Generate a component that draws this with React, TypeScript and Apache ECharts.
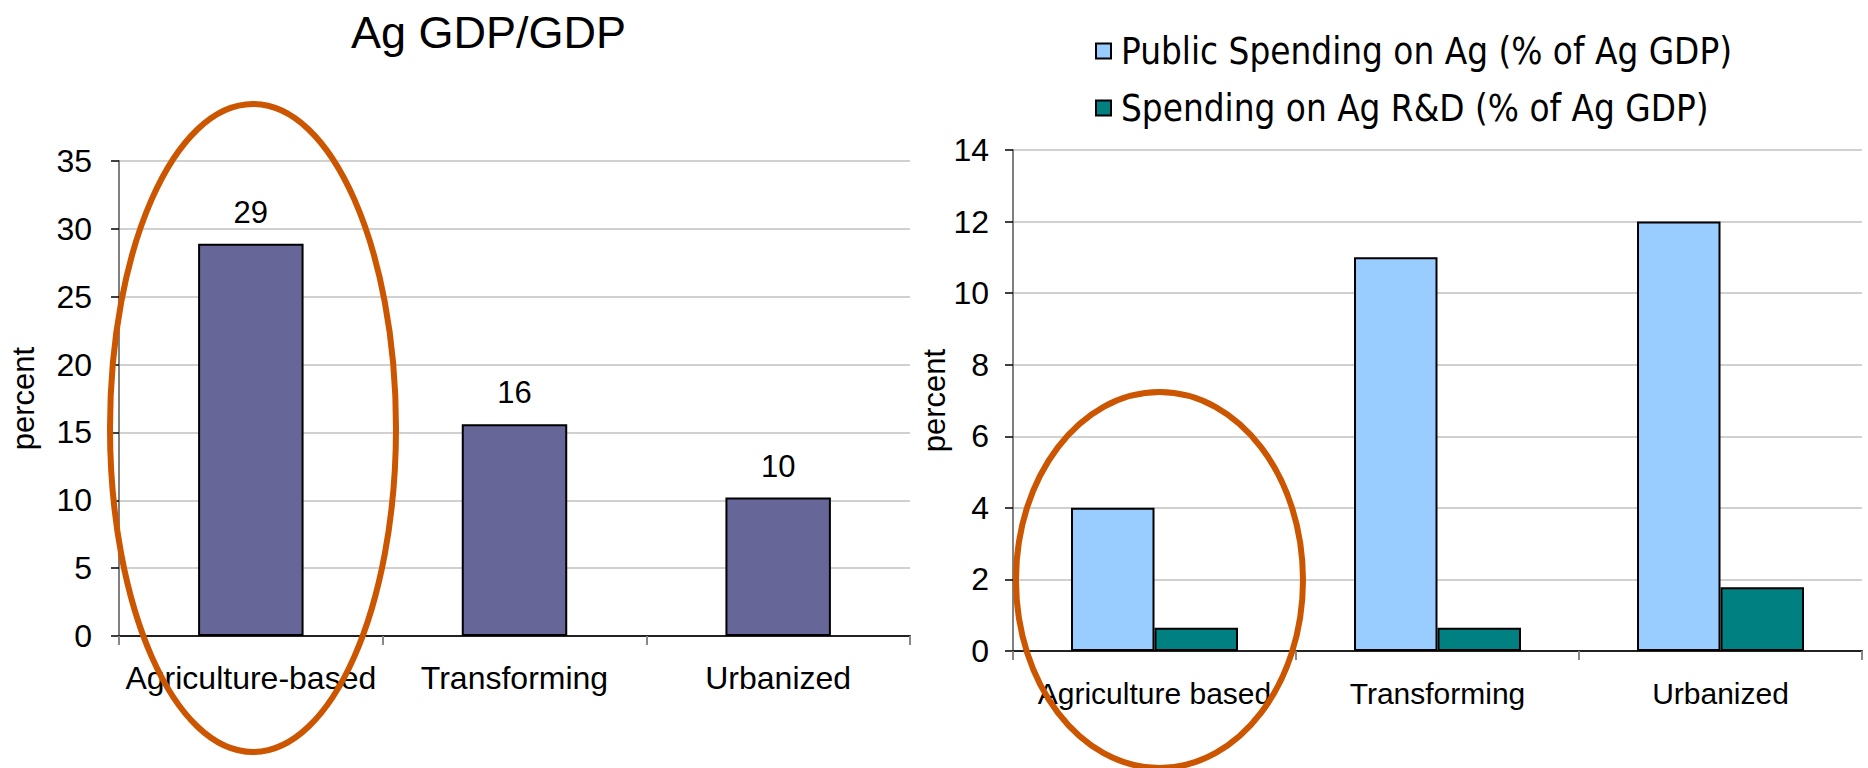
import React, { useEffect, useRef } from "react";
import * as echarts from "echarts";

const titleLeft = "Ag GDP/GDP";
const categoriesLeft = ["Agriculture-based", "Transforming", "Urbanized"];
const agGdpShare = [28.9, 15.6, 10.2];
const leftTicks = { min: 0, max: 35, interval: 5 };

const categoriesRight = ["Agriculture based", "Transforming", "Urbanized"];
const seriesNames = [
  "Public Spending on Ag (% of Ag GDP)",
  "Spending on Ag R&D (% of Ag GDP)",
];
const publicSpending = [4.0, 11.0, 12.0];
const rdSpending = [0.65, 0.65, 1.78];
const rightTicks = { min: 0, max: 14, interval: 2 };
const axisName = "percent";

const FONT = "'Liberation Sans', Arial, sans-serif";
const NARROW = "'Liberation Sans Narrow', 'DejaVu Sans Condensed', 'Liberation Sans', sans-serif";

export default function App() {
  const ref = useRef<HTMLDivElement>(null);
  useEffect(() => {
    if (!ref.current) return;
    const chart = echarts.init(ref.current, undefined, { renderer: "svg" });
    const yAxisCommon = (gridIndex: number, t: any, gap: number, margin: number) => ({
      type: "value",
      gridIndex,
      min: t.min,
      max: t.max,
      interval: t.interval,
      name: axisName,
      nameLocation: "middle",
      nameGap: gap,
      nameTextStyle: { fontFamily: FONT, fontSize: 31, color: "#000" },
      axisLine: { show: true, lineStyle: { color: "#808080", width: 2 } },
      axisTick: { show: true, length: 8, lineStyle: { color: "#000", width: 1.5 } },
      axisLabel: { fontFamily: FONT, fontSize: 32, color: "#000", margin },
      splitLine: { show: true, lineStyle: { color: "#c0c0c0", width: 1.5 } },
    });
    const xAxisCommon = (gridIndex: number, data: string[], fontSize: number, margin: number) => ({
      type: "category",
      gridIndex,
      data,
      axisLine: { show: true, lineStyle: { color: "#222", width: 2 } },
      axisTick: { show: true, length: 9, lineStyle: { color: "#888", width: 2 } },
      axisLabel: { fontFamily: FONT, fontSize, color: "#000", margin, interval: 0 },
      splitLine: { show: false },
    });
    chart.setOption({
      animation: false,
      backgroundColor: "#fff",
      title: {
        text: titleLeft,
        left: 346,
        top: 5,
        textStyle: { fontFamily: FONT, fontSize: 45, fontWeight: "normal", color: "#000" },
      },
      legend: {
        data: seriesNames,
        orient: "vertical",
        left: 1090,
        top: 25,
        itemWidth: 15,
        itemHeight: 15,
        itemGap: 15,
        icon: "rect",
        itemStyle: { borderColor: "#000", borderWidth: 2 },
        textStyle: { fontFamily: NARROW, fontSize: 36.5, lineHeight: 42, color: "#000", padding: [0, 0, 0, 5] },
      },
      grid: [
        { left: 119, right: 958, top: 161, bottom: 132 },
        { left: 1013, right: 6, top: 150, bottom: 117 },
      ],
      xAxis: [xAxisCommon(0, categoriesLeft, 32, 26), xAxisCommon(1, categoriesRight, 30, 27)],
      yAxis: [yAxisCommon(0, leftTicks, 80, 27), yAxisCommon(1, rightTicks, 60, 24)],
      series: [
        {
          type: "bar",
          name: titleLeft,
          xAxisIndex: 0,
          yAxisIndex: 0,
          data: agGdpShare,
          barCategoryGap: "60%",
          itemStyle: { color: "#666699", borderColor: "#000", borderWidth: 2 },
          label: {
            show: true,
            position: "top",
            distance: 16,
            fontFamily: FONT,
            fontSize: 31,
            color: "#000",
            formatter: (p: any) => String(Math.round(p.value)),
          },
        },
        {
          type: "bar",
          name: seriesNames[0],
          xAxisIndex: 1,
          yAxisIndex: 1,
          data: publicSpending,
          barGap: "0%",
          barCategoryGap: "41%",
          itemStyle: { color: "#99ccff", borderColor: "#000", borderWidth: 2 },
        },
        {
          type: "bar",
          name: seriesNames[1],
          xAxisIndex: 1,
          yAxisIndex: 1,
          data: rdSpending,
          barGap: "0%",
          barCategoryGap: "41%",
          itemStyle: { color: "#008080", borderColor: "#000", borderWidth: 2 },
        },
      ],
      graphic: [
        {
          type: "ellipse",
          z: 100,
          silent: true,
          shape: { cx: 253, cy: 428, rx: 143, ry: 324 },
          style: { fill: "none", stroke: "#cc5500", lineWidth: 6 },
        },
        {
          type: "ellipse",
          z: 100,
          silent: true,
          shape: { cx: 1159.5, cy: 580, rx: 143.5, ry: 188 },
          style: { fill: "none", stroke: "#cc5500", lineWidth: 6 },
        },
      ],
    });
    return () => chart.dispose();
  }, []);
  return (
    <div
      ref={ref}
      style={{ position: "absolute", left: 0, top: 0, width: 1868, height: 768, background: "#fff" }}
    />
  );
}
